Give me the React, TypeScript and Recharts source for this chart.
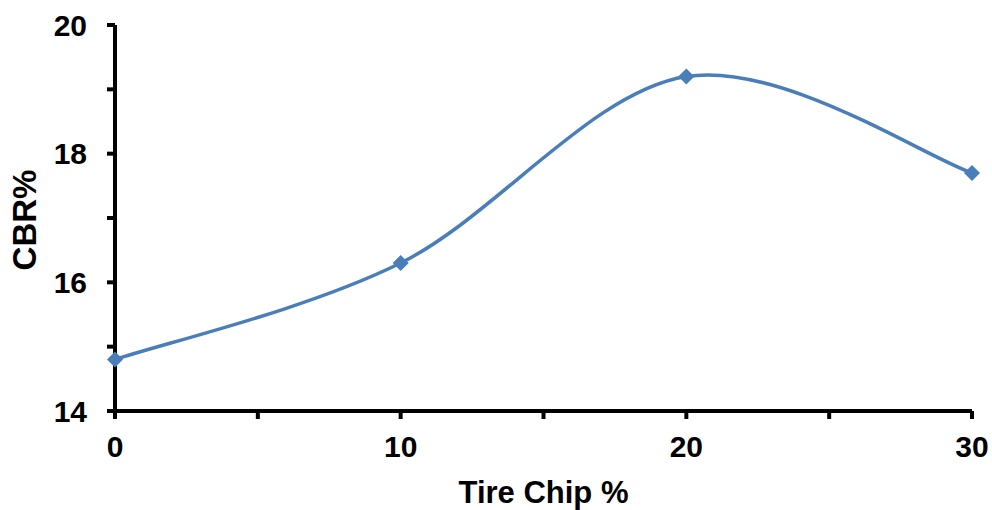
import { LineChart, Line, XAxis, YAxis, Label } from 'recharts';

const tireChip = [0, 10, 20, 30];
const cbr = [14.8, 16.3, 19.2, 17.7];
const xTicks = [0, 5, 10, 15, 20, 25, 30];
const yTicks = [14, 15, 16, 17, 18, 19, 20];

const data = tireChip.map((x, i) => ({ x, cbr: cbr[i] }));

const FONT = '"Liberation Sans", Arial, sans-serif';
const BLUE = '#4A7EBB';

// Excel-style smoothed line (Catmull-Rom through the points)
function smoothCurve(context: any) {
  let pts: number[][] = [];
  return {
    areaStart() {},
    areaEnd() {},
    lineStart() {
      pts = [];
    },
    point(x: number, y: number) {
      pts.push([+x, +y]);
    },
    lineEnd() {
      const n = pts.length;
      if (!n) return;
      context.moveTo(pts[0][0], pts[0][1]);
      for (let i = 0; i < n - 1; i++) {
        const p0 = pts[Math.max(i - 1, 0)];
        const p1 = pts[i];
        const p2 = pts[i + 1];
        const p3 = pts[Math.min(i + 2, n - 1)];
        context.bezierCurveTo(
          p1[0] + (p2[0] - p0[0]) / 6,
          p1[1] + (p2[1] - p0[1]) / 6,
          p2[0] - (p3[0] - p1[0]) / 6,
          p2[1] - (p3[1] - p1[1]) / 6,
          p2[0],
          p2[1]
        );
      }
    },
  };
}

const Diamond = (props: any) => {
  const { cx, cy } = props;
  if (cx == null || cy == null) return null;
  const r = 8;
  return (
    <path
      d={`M${cx},${cy - r}L${cx + r},${cy}L${cx},${cy + r}L${cx - r},${cy}Z`}
      fill={BLUE}
      stroke="none"
    />
  );
};

const tickStyle = { fontFamily: FONT, fontWeight: 'bold', fontSize: 30, fill: '#000' };
const axisLine = { stroke: '#000', strokeWidth: 4 };

export default function App() {
  return (
    <div style={{ position: 'absolute', left: 0, top: 0 }}>
      <LineChart width={992} height={510} data={data} margin={{ top: 25, right: 20, left: 0, bottom: 0 }}>
        <XAxis
          dataKey="x"
          type="number"
          domain={[0, 30]}
          ticks={xTicks}
          tickFormatter={(v: number) => (v % 10 === 0 ? String(v) : '')}
          height={99}
          stroke="#000"
          strokeWidth={4}
          axisLine={axisLine}
          tickLine={axisLine}
          tickSize={8}
          tickMargin={17}
          tick={tickStyle}
        >
          <Label
            value="Tire Chip %"
            position="insideBottom"
            offset={7}
            style={{ fontFamily: FONT, fontWeight: 'bold', fontSize: 31, fill: '#000', stroke: 'none' }}
          />
        </XAxis>
        <YAxis
          type="number"
          domain={[14, 20]}
          ticks={yTicks}
          tickFormatter={(v: number) => (v % 2 === 0 ? String(v) : '')}
          width={115}
          stroke="#000"
          strokeWidth={4}
          axisLine={axisLine}
          tickLine={axisLine}
          tickSize={8}
          tickMargin={20}
          tick={tickStyle}
        >
          <Label
            content={() => (
              <text
                x={36}
                y={220}
                transform="rotate(-90, 36, 220)"
                textAnchor="middle"
                style={{ fontFamily: FONT, fontWeight: 'bold', fontSize: 33, fill: '#000' }}
              >
                CBR%
              </text>
            )}
          />
        </YAxis>
        <Line
          dataKey="cbr"
          type={smoothCurve as any}
          stroke={BLUE}
          strokeWidth={3.5}
          dot={<Diamond />}
          activeDot={false}
          isAnimationActive={false}
        />
      </LineChart>
    </div>
  );
}
